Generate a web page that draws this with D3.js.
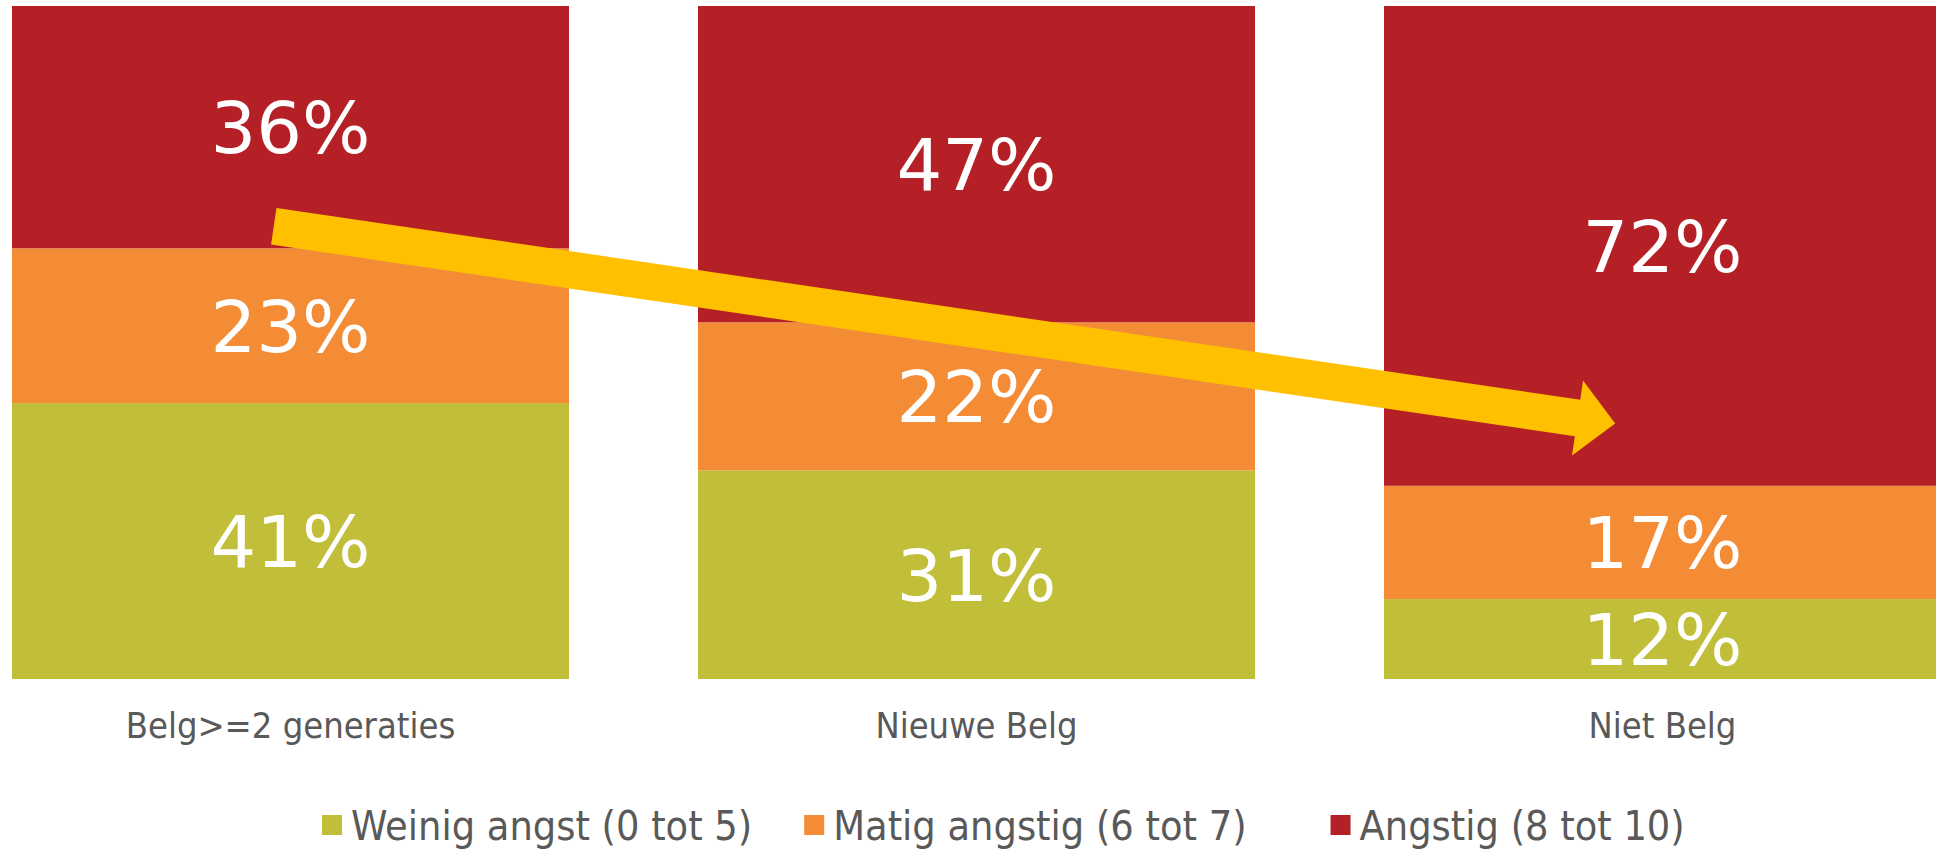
<!DOCTYPE html>
<html>
<head>
<meta charset="utf-8">
<script src="https://cdn.jsdelivr.net/npm/d3@7"></script>
<style>
  html, body { margin: 0; padding: 0; background: #fff; }
  svg { display: block; }
</style>
</head>
<body>
<svg id="chart"></svg>
<script>
const categories = ["Belg>=2 generaties", "Nieuwe Belg", "Niet Belg"];
const seriesNames = ["Weinig angst (0 tot 5)", "Matig angstig (6 tot 7)", "Angstig (8 tot 10)"];
const weinig = [41, 31, 12];
const matig = [23, 22, 17];
const angstig = [36, 47, 72];
const colors = ["#C1BF3A", "#F48C36", "#B52027"];

function drawChart() {
    const width = 1936,
          height = 855;
    const margin = { top: 6, right: 0, bottom: 176, left: 12 };
    const labelFont = '"Liberation Sans Narrow", "DejaVu Sans Condensed", sans-serif';

    const svg = d3.select('#chart')
        .attr("width", width)
        .attr("height", height);

    const series = [weinig, matig, angstig];
    const rows = categories.map((c, i) => {
        const r = { cat: c };
        seriesNames.forEach((s, j) => r[s] = series[j][i]);
        return r;
    });
    // 100% stacked: each bar fills the full height
    const stacked = d3.stack().keys(seriesNames).offset(d3.stackOffsetExpand)(rows);

    const x = d3.scaleBand()
                .domain(categories)
                .range([margin.left, margin.left + 3 * 557 + 2 * 129])
                .paddingInner(129 / 686)
                .paddingOuter(0);

    const y = d3.scaleLinear()
                .domain([0, 1])
                .range([height - margin.bottom, margin.top]);

    // bars
    const layers = svg.selectAll('g.layer')
        .data(stacked)
        .enter()
        .append('g')
        .attr('class', 'layer')
        .attr('fill', (d, i) => colors[i]);

    layers.selectAll('rect')
        .data(d => d)
        .enter()
        .append('rect')
        .attr('x', d => x(d.data.cat))
        .attr('y', d => y(d[1]))
        .attr('width', x.bandwidth())
        .attr('height', d => y(d[0]) - y(d[1]));

    // values
    layers.selectAll('text')
        .data(d => d.map(v => Object.assign(v, { key: d.key })))
        .enter()
        .append('text')
        .attr('x', d => x(d.data.cat) + x.bandwidth() / 2)
        .attr('y', d => (y(d[0]) + y(d[1])) / 2)
        .attr('dy', '0.36em')
        .attr('text-anchor', 'middle')
        .attr('fill', '#fff')
        .style('font-family', '"DejaVu Sans", sans-serif')
        .style('font-size', '72px')
        .text(d => d.data[d.key] + '%');

    // x axis (labels only)
    const xAxis = d3.axisBottom(x).tickSize(0).tickPadding(33);
    const xAxisGroup = svg.append("g")
        .attr("transform", `translate(0, ${height - margin.bottom})`)
        .call(xAxis);
    xAxisGroup.select(".domain").remove();
    xAxisGroup.selectAll("text")
        .attr('fill', '#595959')
        .style('font-family', labelFont)
        .style('font-size', '36px');

    // trend arrow
    const x0 = x(categories[0]) + x.bandwidth() * 0.47,
          y0 = y((weinig[0] + matig[0]) / 100) - 22,
          x1 = x(categories[2]) + x.bandwidth() * 0.415,
          y1 = y(0.5) + 81;
    const ang = Math.atan2(y1 - y0, x1 - x0);
    const len = Math.hypot(x1 - x0, y1 - y0);
    const sw = 18.5, hw = 38, hl = 38;
    const pts = [[0, -sw], [len - hl, -sw], [len - hl, -hw], [len, 0], [len - hl, hw], [len - hl, sw], [0, sw]];
    svg.append('path')
        .attr('d', d3.line()(pts) + 'Z')
        .attr('fill', '#FFC000')
        .attr('transform', `translate(${x0},${y0}) rotate(${ang * 180 / Math.PI})`);

    // legend
    const legend = svg.append('g')
        .attr('transform', `translate(322, 825)`);
    const gaps = [52, 84];
    let lx = 0;
    seriesNames.forEach((s, i) => {
        const g = legend.append('g').attr('transform', `translate(${lx},0)`);
        g.append('rect')
            .attr('x', 0).attr('y', -10)
            .attr('width', 20).attr('height', 20)
            .attr('fill', colors[i]);
        const t = g.append('text')
            .attr('x', 29)
            .attr('dy', '0.36em')
            .attr('fill', '#595959')
            .style('font-family', labelFont)
            .style('font-size', '41px')
            .text(s);
        lx += 29 + t.node().getComputedTextLength() + (gaps[i] || 0);
    });
}

drawChart();
</script>
</body>
</html>
